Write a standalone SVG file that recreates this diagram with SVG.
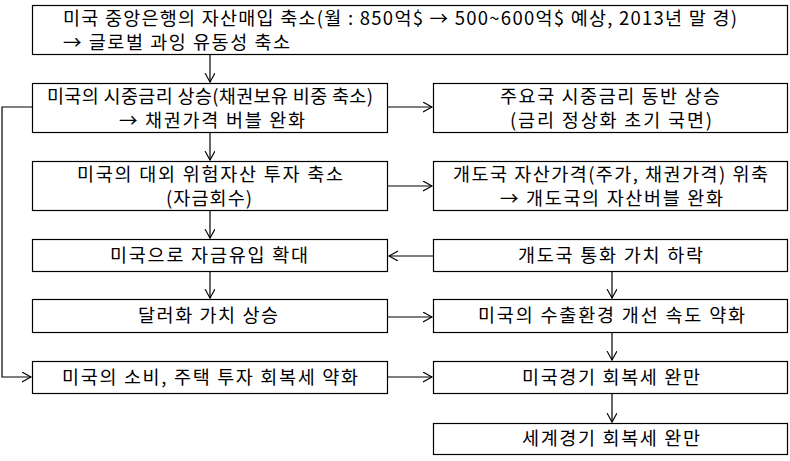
<svg xmlns="http://www.w3.org/2000/svg" width="790" height="461" viewBox="0 0 790 461">
<defs>
<style>
.box{fill:#fff;stroke:#000;stroke-width:1.2}
.t{font-family:"Noto Sans CJK KR","Noto Sans",sans-serif;font-size:18.5px;fill:#000;text-anchor:middle}
.tl{text-anchor:start}
.c{fill:none;stroke:#000;stroke-width:1.2}
</style>
<marker id="ah" markerUnits="userSpaceOnUse" markerWidth="12" markerHeight="12" refX="9" refY="5" orient="auto">
<path d="M0,0 L9,5 L0,10" fill="none" stroke="#000" stroke-width="1.1"/>
</marker>
</defs>
<rect width="790" height="461" fill="#fff"/>
<g id="connectors">
<path class="c" d="M210,54 V82" marker-end="url(#ah)"/>
<path class="c" d="M210,132 V160" marker-end="url(#ah)"/>
<path class="c" d="M210,210 V238" marker-end="url(#ah)"/>
<path class="c" d="M210,271 V298" marker-end="url(#ah)"/>
<path class="c" d="M612,271 V298" marker-end="url(#ah)"/>
<path class="c" d="M612,332 V360" marker-end="url(#ah)"/>
<path class="c" d="M612,393 V422" marker-end="url(#ah)"/>
<path class="c" d="M388,107 H432" marker-end="url(#ah)"/>
<path class="c" d="M388,186 H432" marker-end="url(#ah)"/>
<path class="c" d="M433,256 H389" marker-end="url(#ah)"/>
<path class="c" d="M388,317 H432" marker-end="url(#ah)"/>
<path class="c" d="M388,377 H432" marker-end="url(#ah)"/>
<path class="c" d="M32,107 H2 V377 H31" marker-end="url(#ah)"/>
</g>
<g id="n1"><rect class="box" x="32.5" y="5.5" width="755" height="49"/>
<text class="t tl" x="63" y="25" textLength="674" lengthAdjust="spacing">미국 중앙은행의 자산매입 축소(월 : 850억$ → 500~600억$ 예상,  2013년 말 경)</text>
<text class="t tl" x="63" y="49" textLength="227" lengthAdjust="spacing">→ 글로벌 과잉 유동성 축소</text></g>
<g id="n2"><rect class="box" x="32.5" y="83.5" width="355" height="49"/>
<text class="t" x="210" y="103" textLength="326" lengthAdjust="spacing">미국의 시중금리 상승(채권보유 비중 축소)</text>
<text class="t" x="212" y="127" textLength="186" lengthAdjust="spacing">→ 채권가격 버블 완화</text></g>
<g id="n3"><rect class="box" x="433.5" y="83.5" width="354" height="49"/>
<text class="t" x="610" y="103" textLength="220" lengthAdjust="spacing">주요국 시중금리 동반 상승</text>
<text class="t" x="611" y="127" textLength="202" lengthAdjust="spacing">(금리 정상화 초기 국면)</text></g>
<g id="n4"><rect class="box" x="32.5" y="161.5" width="355" height="49"/>
<text class="t" x="210" y="181" textLength="266" lengthAdjust="spacing">미국의 대외 위험자산 투자 축소</text>
<text class="t" x="209" y="205" textLength="86" lengthAdjust="spacing">(자금회수)</text></g>
<g id="n5"><rect class="box" x="433.5" y="161.5" width="354" height="49"/>
<text class="t" x="610.5" y="181" textLength="315" lengthAdjust="spacing">개도국 자산가격(주가, 채권가격) 위축</text>
<text class="t" x="611.5" y="205" textLength="223" lengthAdjust="spacing">→ 개도국의 자산버블 완화</text></g>
<g id="n6"><rect class="box" x="32.5" y="239.5" width="355" height="32"/>
<text class="t" x="209" y="262" textLength="198" lengthAdjust="spacing">미국으로 자금유입 확대</text></g>
<g id="n7"><rect class="box" x="433.5" y="239.5" width="354" height="32"/>
<text class="t" x="610.5" y="262" textLength="185" lengthAdjust="spacing">개도국 통화 가치 하락</text></g>
<g id="n8"><rect class="box" x="32.5" y="299.5" width="355" height="33"/>
<text class="t" x="208" y="322" textLength="140" lengthAdjust="spacing">달러화 가치 상승</text></g>
<g id="n9"><rect class="box" x="433.5" y="299.5" width="354" height="33"/>
<text class="t" x="611.5" y="322" textLength="267" lengthAdjust="spacing">미국의 수출환경 개선 속도 약화</text></g>
<g id="n10"><rect class="box" x="32.5" y="361.5" width="355" height="32"/>
<text class="t" x="210" y="384" textLength="296" lengthAdjust="spacing">미국의 소비, 주택 투자 회복세 약화</text></g>
<g id="n11"><rect class="box" x="433.5" y="361.5" width="354" height="32"/>
<text class="t" x="611" y="384" textLength="178" lengthAdjust="spacing">미국경기 회복세 완만</text></g>
<g id="n12"><rect class="box" x="433.5" y="423.5" width="354" height="31"/>
<text class="t" x="611" y="445" textLength="178" lengthAdjust="spacing">세계경기 회복세 완만</text></g>
</svg>
